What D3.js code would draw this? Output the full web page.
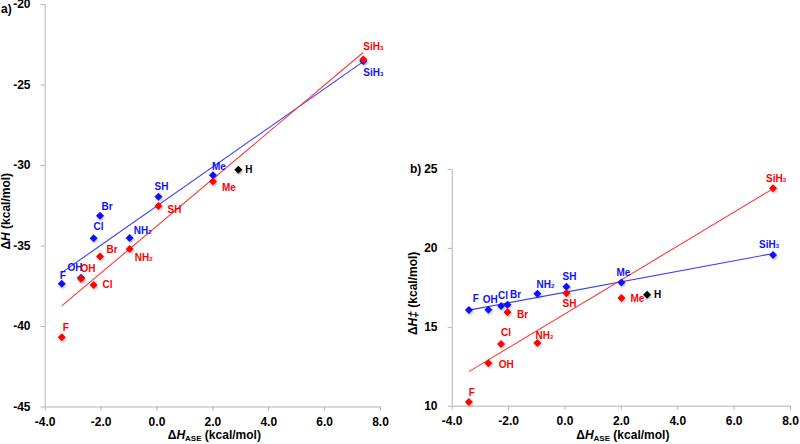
<!DOCTYPE html>
<html>
<head>
<meta charset="utf-8">
<script src="https://cdn.jsdelivr.net/npm/d3@7"></script>
<style>
  body { margin: 0; background: #fff; }
  svg { font-family: "Liberation Sans", Arial, sans-serif; font-weight: bold; }
</style>
</head>
<body>
<svg id="chart" width="800" height="444"></svg>
<script>
// Substituents (same order in all arrays)
const groups = ["F", "OH", "Cl", "Br", "NH2", "SH", "Me", "SiH3"];
// ΔH_ASE (kcal/mol), x values
const aseX = [-3.39, -2.7, -2.25, -2.02, -0.96, 0.07, 2.02, 7.4];

// Panel a: ΔH (kcal/mol)
const dHBlue = [-37.37, -37.0, -34.55, -33.15, -34.53, -31.97, -30.64, -23.54];
const dHRed  = [-40.7, -37.06, -37.45, -35.69, -35.22, -32.55, -31.03, -23.44];
// Panel b: ΔH‡ (kcal/mol)
const dHtsBlue = [16.06, 16.08, 16.32, 16.4, 17.1, 17.54, 17.8, 19.55];
const dHtsRed  = [10.23, 12.69, 13.91, 15.92, 13.97, 17.12, 16.83, 23.78];

// Parent H (black point)
const hX = 2.93;
const hA = -30.29;
const hB = 17.03;

const xTicks = [-4, -2, 0, 2, 4, 6, 8];
const yTicksA = [-45, -40, -35, -30, -25, -20];
const yTicksB = [10, 15, 20, 25];

// label offsets [dx, dy] from marker (layout only)
const offA = {
  blue: { F: [1, -8], OH: [-6, -10], Cl: [5, -12], Br: [7, -9], NH2: [13, -8], SH: [3, -10], Me: [6, -9], SiH3: [10, 11] },
  red:  { F: [4, -10], OH: [7, -10], Cl: [14, 0], Br: [12, -7], NH2: [14, 8], SH: [16, 3], Me: [16, 6], SiH3: [10, -13] }
};
const offB = {
  blue: { F: [7, -12], OH: [2, -10], Cl: [2, -10], Br: [8, -10], NH2: [8, -10], SH: [3, -10], Me: [2, -10], SiH3: [-4, -11] },
  red:  { F: [3, -10], OH: [18, 1], Cl: [5, -12], Br: [15, 2], NH2: [7, -8], SH: [3, 10], Me: [16, 1], SiH3: [3, -10] }
};

const svg = d3.select("#chart");

// drop shadow for markers
const defs = svg.append("defs");
const f = defs.append("filter").attr("id", "sh").attr("x", "-50%").attr("y", "-50%").attr("width", "200%").attr("height", "200%");
f.append("feDropShadow").attr("dx", 1).attr("dy", 1.5).attr("stdDeviation", 1)
  .attr("flood-color", "#000").attr("flood-opacity", 0.25);

const diamond = "M0,-4L4,0L0,4L-4,0Z";

function fit(xs, ys) {
  const mx = d3.mean(xs), my = d3.mean(ys);
  let sxy = 0, sxx = 0;
  xs.forEach((x, i) => { sxy += (x - mx) * (ys[i] - my); sxx += (x - mx) * (x - mx); });
  const m = sxy / sxx;
  return x => my + m * (x - mx);
}

function labelText(sel, name) {
  if (name === "NH2" || name === "SiH3") {
    sel.append("tspan").text(name.slice(0, -1));
    sel.append("tspan").attr("font-size", 6).attr("dy", 2).text(name.slice(-1));
  } else {
    sel.text(name);
  }
}

// plain hyphen minus like the original
const fmt1 = d => d3.format(".1f")(d).replace("−", "-");
const fmt0 = d => d3.format("d")(d).replace("−", "-");

function panel(opt) {
  const x = d3.scaleLinear().domain([-4, 8]).range(opt.xr);
  const y = d3.scaleLinear().domain(opt.yd).range(opt.yr);
  const g = svg.append("g");

  // axes
  const ax = g.append("g").attr("transform", "translate(0," + opt.yr[0] + ")")
    .call(d3.axisBottom(x).tickValues(xTicks).tickFormat(fmt1).tickSizeInner(4).tickSizeOuter(0));
  const ay = g.append("g").attr("transform", "translate(" + opt.xr[0] + ",0)")
    .call(d3.axisLeft(y).tickValues(opt.yt).tickFormat(fmt0).tickSizeInner(4).tickSizeOuter(0));
  [ax, ay].forEach(a => {
    a.select(".domain").attr("stroke", "#b3b3b3");
    a.selectAll(".tick line").attr("stroke", "#b3b3b3");
    a.selectAll("text").attr("fill", "#000").attr("font-size", 12).attr("font-weight", "bold")
      .attr("font-family", "'Liberation Sans', Arial, sans-serif");
  });
  ax.selectAll("text").attr("dy", "1.0em");
  ay.selectAll("text").attr("dx", "-0.6em");

  // regression lines
  [[opt.blue, "#3a3aff"], [opt.red, "#ff3a3a"]].forEach(([ys, c]) => {
    const fn = fit(aseX, ys);
    const x0 = d3.min(aseX), x1 = d3.max(aseX);
    g.append("line")
      .attr("x1", x(x0)).attr("y1", y(fn(x0)))
      .attr("x2", x(x1)).attr("y2", y(fn(x1)))
      .attr("stroke", c).attr("stroke-width", 1.1);
  });

  // markers
  const series = [
    { ys: opt.blue, c: "#1010ff", off: opt.off.blue },
    { ys: opt.red, c: "#ff0000", off: opt.off.red }
  ];
  series.forEach(s => {
    g.selectAll(null).data(groups).enter().append("path")
      .attr("d", diamond)
      .attr("transform", (d, i) => "translate(" + x(aseX[i]) + "," + y(s.ys[i]) + ")")
      .attr("fill", s.c).attr("filter", "url(#sh)");
  });
  g.append("path").attr("d", diamond)
    .attr("transform", "translate(" + x(hX) + "," + y(opt.h) + ")")
    .attr("fill", "#000").attr("filter", "url(#sh)");

  // labels
  series.forEach(s => {
    groups.forEach((name, i) => {
      const o = s.off[name];
      const t = g.append("text")
        .attr("x", x(aseX[i]) + o[0]).attr("y", y(s.ys[i]) + o[1])
        .attr("text-anchor", "middle").attr("dominant-baseline", "central")
        .attr("font-size", 10).attr("fill", s.c);
      labelText(t, name);
    });
  });
  g.append("text").attr("x", x(hX) + 7).attr("y", y(opt.h))
    .attr("dominant-baseline", "central").attr("font-size", 10).text("H");

  // axis titles
  const xt = g.append("text").attr("x", (opt.xr[0] + opt.xr[1]) / 2 + 2).attr("y", 439)
    .attr("text-anchor", "middle").attr("font-size", 12);
  xt.append("tspan").text("Δ");
  xt.append("tspan").attr("font-style", "italic").text("H");
  xt.append("tspan").attr("font-size", 8).attr("dy", 2).text("ASE");
  xt.append("tspan").attr("dy", -2).text(" (kcal/mol)");

  const cy = (opt.yr[0] + opt.yr[1]) / 2 + 6;
  const yt = g.append("text").attr("transform", "translate(" + opt.ytx + "," + cy + ") rotate(-90)")
    .attr("text-anchor", "middle").attr("font-size", 12);
  yt.append("tspan").text("Δ");
  yt.append("tspan").attr("font-style", "italic").text("H");
  if (opt.ts) yt.append("tspan").attr("font-style", "italic").text("‡");
  yt.append("tspan").text(" (kcal/mol)");

  g.append("text").attr("x", opt.lab[0]).attr("y", opt.lab[1]).attr("font-size", 12).text(opt.name);
}

panel({
  xr: [44.7, 380], yd: [-45, -20], yr: [406.5, 4], yt: yTicksA,
  blue: dHBlue, red: dHRed, h: hA, off: offA, ytx: 10, ts: false,
  lab: [1, 13], name: "a)"
});
panel({
  xr: [451.7, 790], yd: [10, 25], yr: [405.7, 169], yt: yTicksB,
  blue: dHtsBlue, red: dHtsRed, h: hB, off: offB, ytx: 417, ts: true,
  lab: [410, 173], name: "b)"
});
</script>
</body>
</html>
